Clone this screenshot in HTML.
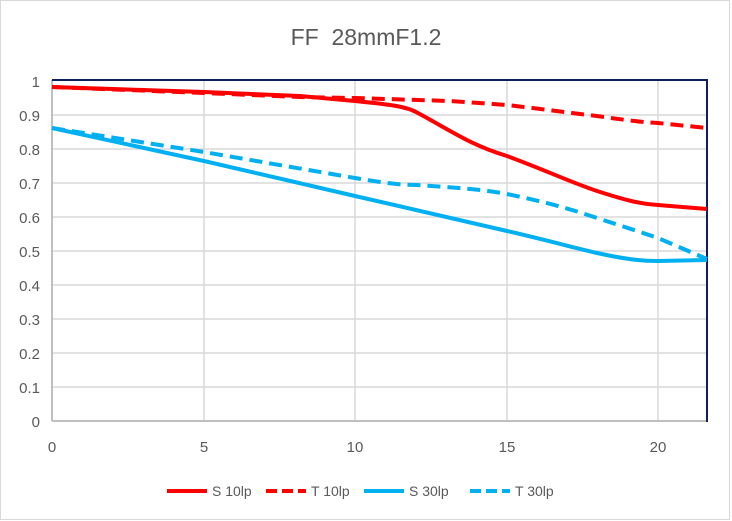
<!DOCTYPE html>
<html><head><style>body{margin:0;background:#fff}svg{display:block}text{font-family:"Liberation Sans",sans-serif;fill:#595959}</style></head><body>
<svg width="732" height="521" viewBox="0 0 732 521" xmlns="http://www.w3.org/2000/svg">
<rect x="0.5" y="0.5" width="729" height="519" fill="#fff" stroke="#d9d9d9"/>
<text x="366" y="45" font-size="23" text-anchor="middle" fill="#404040">FF&#160;&#160;28mmF1.2</text>
<g stroke="#d9d9d9" stroke-width="1.5">
<line x1="52" y1="115" x2="707" y2="115"/><line x1="52" y1="149" x2="707" y2="149"/><line x1="52" y1="183" x2="707" y2="183"/><line x1="52" y1="217" x2="707" y2="217"/><line x1="52" y1="251" x2="707" y2="251"/><line x1="52" y1="285" x2="707" y2="285"/><line x1="52" y1="319" x2="707" y2="319"/><line x1="52" y1="353" x2="707" y2="353"/><line x1="52" y1="387" x2="707" y2="387"/>
<line x1="204" y1="81" x2="204" y2="421"/><line x1="355" y1="81" x2="355" y2="421"/><line x1="507" y1="81" x2="507" y2="421"/><line x1="658" y1="81" x2="658" y2="421"/>
</g>
<line x1="52" y1="80" x2="52" y2="421" stroke="#bfbfbf" stroke-width="2"/>
<line x1="52" y1="421" x2="707" y2="421" stroke="#bfbfbf" stroke-width="2"/>
<line x1="52" y1="80" x2="708" y2="80" stroke="#0f1f5c" stroke-width="2"/>
<line x1="707" y1="80" x2="707" y2="422" stroke="#0f1f5c" stroke-width="2"/>
<g font-size="15" text-anchor="end">
<text x="40" y="87">1</text><text x="40" y="121">0.9</text><text x="40" y="155">0.8</text><text x="40" y="189">0.7</text><text x="40" y="223">0.6</text><text x="40" y="257">0.5</text><text x="40" y="291">0.4</text><text x="40" y="325">0.3</text><text x="40" y="359">0.2</text><text x="40" y="393">0.1</text><text x="40" y="427">0</text>
</g>
<g font-size="15" text-anchor="middle">
<text x="52" y="452">0</text><text x="204" y="452">5</text><text x="355" y="452">10</text><text x="507" y="452">15</text><text x="658" y="452">20</text>
</g>
<g fill="none" stroke-width="4" stroke-linejoin="round">
<path d="M52,87 L204,92 L300,96 L355,101 C385,104 405,106 416,112 C450,130 470,145 507,156 C550,172 570,182 597,191 C625,200 640,204 658,205 L707,209" stroke="#ff0000"/>
<path d="M52,87 L204,93 L300,97 L355,98 L450,101 L507,105 C550,110 570,113 597,116 C625,120 640,122 658,123 L707,128" stroke="#ff0000" stroke-dasharray="13,7"/>
<path d="M52,128 L204,161 L355,196 L507,231 C550,241 575,248 597,253 C625,259 640,261 658,261 L707,260" stroke="#00b0f0"/>
<path d="M52,128 L204,152 L355,178 C385,183 400,185 416,185 C460,188 480,189 507,194 C550,203 570,209 597,218 C625,227 640,232 658,238 L707,259" stroke="#00b0f0" stroke-dasharray="13,7"/>
</g>
<g stroke-width="4">
<line x1="167" y1="491" x2="207" y2="491" stroke="#ff0000"/>
<line x1="266" y1="491" x2="306" y2="491" stroke="#ff0000" stroke-dasharray="11,5"/>
<line x1="364" y1="491" x2="404" y2="491" stroke="#00b0f0"/>
<line x1="470" y1="491" x2="510" y2="491" stroke="#00b0f0" stroke-dasharray="11,5"/>
</g>
<g font-size="14">
<text x="212" y="496">S 10lp</text><text x="311" y="496">T 10lp</text><text x="409" y="496">S 30lp</text><text x="515" y="496">T 30lp</text>
</g>
</svg>
</body></html>
